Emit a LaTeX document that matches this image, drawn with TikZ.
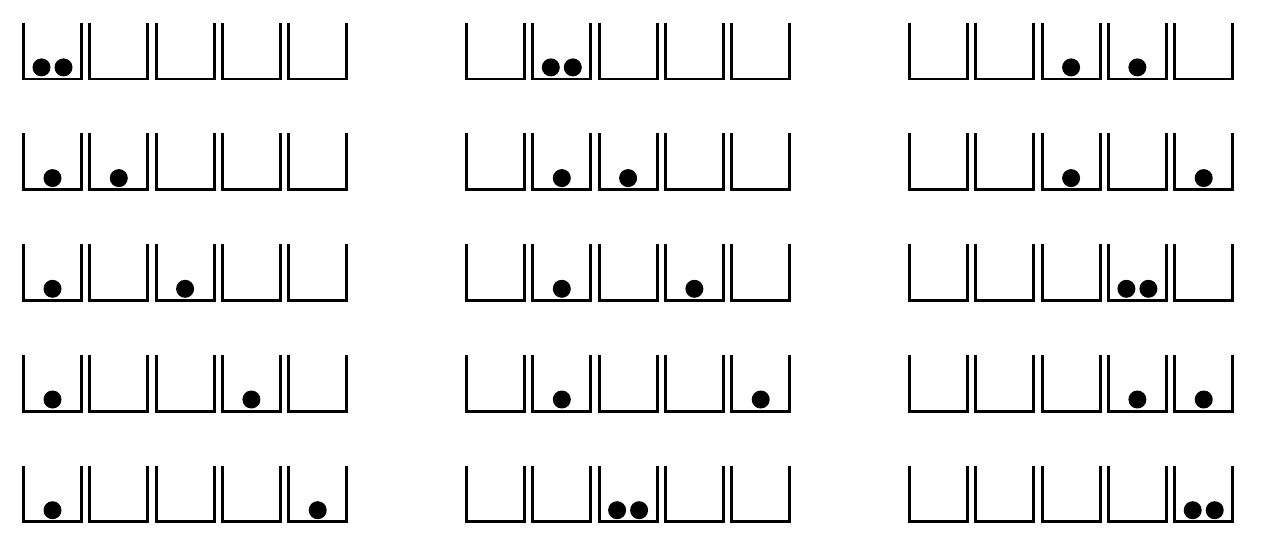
\documentclass[tikz,border=0pt]{standalone}
\usetikzlibrary{positioning}
\tikzstyle{cup} = [line width=1.7pt, line join=miter, draw=black]
\tikzstyle{ball} = [fill=black]
\begin{document}
\begin{tikzpicture}[x=0.02cm, y=-0.02cm]
	\useasboundingbox (0,0) rectangle (1274,554);
	% cups
	\foreach \c in {0,1,2}
		\foreach \r in {0,...,4}
			\foreach \i in {0,...,4}
				\draw[cup] ({23.5+443*\c+66.3*\i},{22.7+110.7*\r}) -- ++(0,56.3) -- ++(58,0) -- ++(0,-56.3);
	% balls: column/row/first cup/second cup
	\foreach \c/\r/\a/\b in {0/0/1/1, 0/1/1/2, 0/2/1/3, 0/3/1/4, 0/4/1/5,
		1/0/2/2, 1/1/2/3, 1/2/2/4, 1/3/2/5, 1/4/3/3,
		2/0/3/4, 2/1/3/5, 2/2/4/4, 2/3/4/5, 2/4/5/5}{
		\pgfmathsetmacro{\xa}{52.5+443*\c+66.3*(\a-1)}
		\pgfmathsetmacro{\xb}{52.5+443*\c+66.3*(\b-1)}
		\pgfmathsetmacro{\yb}{67.4+110.7*\r}
		\ifnum\a=\b
			\fill[ball] (\xa-11,\yb) circle (9);
			\fill[ball] (\xa+11,\yb) circle (9);
		\else
			\fill[ball] (\xa,\yb) circle (9);
			\fill[ball] (\xb,\yb) circle (9);
		\fi
	}
\end{tikzpicture}
\end{document}
